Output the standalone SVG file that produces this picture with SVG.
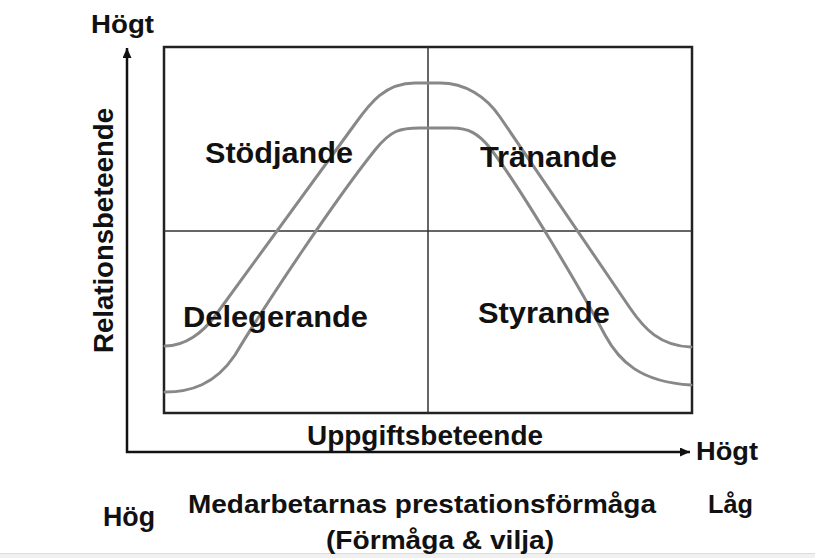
<svg xmlns="http://www.w3.org/2000/svg" width="815" height="558" viewBox="0 0 815 558">
  <defs>
    <marker id="arrow" markerUnits="userSpaceOnUse" markerWidth="11" markerHeight="9" refX="10" refY="4.5" orient="auto-start-reverse">
      <path d="M0,0 L10,4.5 L0,9 z" fill="#111"/>
    </marker>
  </defs>
  <style>
    .t { font-family: "Liberation Sans", Arial, sans-serif; font-weight: bold; fill: #111; }
    .frame { fill: none; stroke: #222; stroke-width: 2.5; }
    .div { fill: none; stroke: #333; stroke-width: 1.5; }
    .curve { fill: none; stroke: #888; stroke-width: 3; stroke-linecap: round; stroke-linejoin: round; }
    .axis { fill: none; stroke: #111; stroke-width: 2.5; }
  </style>
  <rect x="0" y="0" width="815" height="558" fill="#fff"/>
  <rect x="0" y="553" width="815" height="5" fill="#f0f0f0"/>
  <line x1="0" y1="553.5" x2="815" y2="553.5" stroke="#dcdcdc" stroke-width="1"/>

  <g id="axes">
    <path class="axis" d="M127,48 L127,452 L690,452" marker-start="url(#arrow)" marker-end="url(#arrow)"/>
    <text class="t" x="91" y="33" font-size="26" textLength="63" lengthAdjust="spacingAndGlyphs">Högt</text>
    <text class="t" x="696" y="460" font-size="26" textLength="62" lengthAdjust="spacingAndGlyphs">Högt</text>
    <text class="t" transform="translate(113,230.5) rotate(-90)" x="0" y="0" font-size="27.5" text-anchor="middle" textLength="245" lengthAdjust="spacingAndGlyphs">Relationsbeteende</text>
    <text class="t" x="307" y="445" font-size="28" textLength="236" lengthAdjust="spacingAndGlyphs">Uppgiftsbeteende</text>
  </g>

  <g id="grid">
    <rect class="frame" x="164" y="47" width="528" height="366"/>
    <line class="div" x1="428" y1="47" x2="428" y2="413"/>
    <line class="div" x1="164" y1="231" x2="692" y2="231"/>
  </g>

  <g id="connectors">
    <path id="outer-curve" class="curve" d="M165,346 C185,346 203,332.5 215,316 L355,124 C370,103 385,83 415,83 L440,83 C465,83 486,96.4 500,117 L630,308 C644,328.6 660,346 691,347"/>
    <path id="inner-curve" class="curve" d="M165,392 C190,392 215,385 235,355 C265,305 335,200 375,150 C391,130 400,128 420,128 L452,128 C468,128 478,133 490,148 C520,187 580,288 605,335 C619,361 640,382 691,385"/>
  </g>

  <g id="stodjande">
    <text class="t" x="205" y="163" font-size="30" textLength="148" lengthAdjust="spacingAndGlyphs">Stödjande</text>
  </g>
  <g id="tranande">
    <text class="t" x="480" y="167" font-size="30" textLength="137" lengthAdjust="spacingAndGlyphs">Tränande</text>
  </g>
  <g id="delegerande">
    <text class="t" x="183" y="327" font-size="30" textLength="185" lengthAdjust="spacingAndGlyphs">Delegerande</text>
  </g>
  <g id="styrande">
    <text class="t" x="478" y="323" font-size="30" textLength="132" lengthAdjust="spacingAndGlyphs">Styrande</text>
  </g>

  <g id="bottom-scale">
    <text class="t" x="103" y="526" font-size="27" textLength="52" lengthAdjust="spacingAndGlyphs">Hög</text>
    <text class="t" x="188" y="513" font-size="26" textLength="468" lengthAdjust="spacingAndGlyphs">Medarbetarnas prestationsförmåga</text>
    <text class="t" x="708" y="513" font-size="26" textLength="45" lengthAdjust="spacingAndGlyphs">Låg</text>
    <text class="t" x="326" y="549" font-size="26" textLength="228" lengthAdjust="spacingAndGlyphs">(Förmåga &amp; vilja)</text>
  </g>
</svg>
